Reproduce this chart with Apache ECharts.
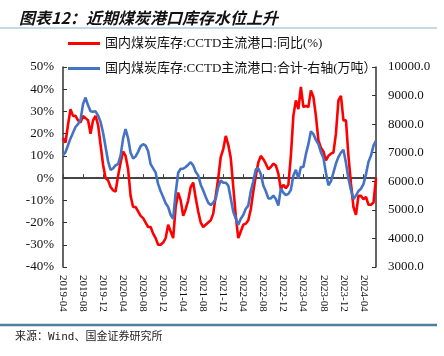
<!DOCTYPE html>
<html>
<head>
<meta charset="utf-8">
<script src="https://cdn.jsdelivr.net/npm/echarts@6/dist/echarts.min.js"></script>
<style>
html,body{margin:0;padding:0;background:#fff;}
#main{width:444px;height:356px;}
</style>
</head>
<body>
<div id="main"></div>
<script>
// Half-monthly observation dates, 2019-04 .. 2024-06
var categories = [];
(function(){
  var y = 2019, m = 4;
  for (var k = 0; k < 63; k++) {
    var mm = (m < 10 ? '0' : '') + m;
    categories.push(y + '-' + mm + '-01');
    categories.push(y + '-' + mm + '-16');
    m++; if (m > 12) { m = 1; y++; }
  }
})();

var seriesNames = ['国内煤炭库存:CCTD主流港口:同比(%)', '国内煤炭库存:CCTD主流港口:合计-右轴(万吨）'];

// YoY change (%), left axis
var yoyValues = [
  18, 16, 24, 31, 28, 28, 26, 25, 28, 27,
  26, 20, 26, 28, 24, 15, 6, 0, -1, -4,
  -5.5, -6, 1, 7, 12, 10, 4, -8, -13, -13,
  -15, -17, -18, -20, -22, -22, -25, -27, -30, -30,
  -29, -27, -21, -24, -27, -13, -6.5, -10, -17, -14,
  -10, -4, -2, -9, -15, -20, -22, -21, -20, -19,
  -16, -8, 0, 9.5, 13, 19, 15, 9, -4, -17,
  -27, -24, -21, -20.5, -19, -14, -6, 1, 7, 10,
  8.5, 6.5, 4, 5, 6.5, 5.7, 2, -5, -3, -4.5,
  -3, 10, 28, 35, 31, 41, 32, 32.5, 32, 39.5,
  36.5, 28, 17, 13.7, 12, 8, 10, 11, 11.5, 20,
  35, 37, 26, 26, 10, -2.5, -13, -16.5, -8, -8,
  -9.5, -8.5, -12, -12, -11, 0
];

// Total inventory (万吨), right axis
var totalValues = [
  6910, 7020, 7260, 7500, 7700, 7900, 8000, 8150, 8700, 8930,
  8660, 8450, 8430, 8450, 8300, 8080, 7700, 7200, 6700, 6400,
  6450, 6560, 6600, 6900, 7500, 7830, 7500, 7000, 6800, 6870,
  7030, 7230, 7300, 7250, 7050, 6600, 6450, 6300, 5900, 5650,
  5450, 5230, 5100, 4820, 4690, 5600, 6300, 6440, 6440, 6500,
  6580, 6670, 6550, 6330, 6200, 5880, 5680, 5450, 5250, 5170,
  5250, 5390, 5800, 6030, 5950, 5950, 5850, 5400, 4930, 4700,
  4480, 4690, 4820, 5040, 5150, 5650, 6000, 6420, 6450, 6250,
  5850, 5650, 5400, 5400, 5500, 5380, 5150, 5750, 5600, 5520,
  5560, 5700, 6200, 6400, 6100, 6500, 6500, 6950, 7300, 7750,
  7650, 7450, 7300, 7020, 6820, 6300, 5860, 6000, 6300, 6620,
  6850, 7000, 7100, 6650, 6100, 5700, 5380, 5500, 5660, 5740,
  5900, 6250, 6680, 6900, 7250, 7420
];

var leftTicks = {min: -40, max: 50, step: 10};
var rightTicks = {min: 3000, max: 10000, step: 1000};

var serif = 'Liberation Serif, Noto Sans CJK SC, serif';
var chart = echarts.init(document.getElementById('main'), null, {renderer: 'canvas'});
chart.setOption({
  animation: false,
  backgroundColor: '#fff',
  title: {
    text: '图表12：近期煤炭港口库存水位上升',
    left: 14, top: 5,
    textStyle: {fontSize: 16, fontWeight: 'bold', fontStyle: 'italic', color: '#111', fontFamily: 'Noto Sans CJK SC'}
  },
  graphic: [
    {type: 'line', shape: {x1: 0, y1: 28, x2: 437, y2: 28}, style: {stroke: '#8fb1cb', lineWidth: 1.2}},
    {type: 'line', shape: {x1: 0, y1: 325, x2: 437, y2: 325}, style: {stroke: '#4d7e9e', lineWidth: 2.5}},
    {type: 'text', left: 15, top: 332, style: {text: '来源：Wind、国金证券研究所', fontSize: 11, fill: '#222', fontFamily: 'DejaVu Sans Mono, Noto Sans CJK SC'}}
  ],
  legend: {
    orient: 'vertical', left: 63, top: 32, itemGap: 12,
    itemWidth: 32, itemHeight: 3, icon: 'rect',
    textStyle: {fontSize: 13, color: '#111', fontFamily: serif},
    data: seriesNames
  },
  grid: {left: 63, right: 68, top: 67, bottom: 89},
  xAxis: [
    {
      type: 'category', data: categories, boundaryGap: false, position: 'bottom',
      axisLine: {show: false, onZero: false},
      axisTick: {show: false},
      axisLabel: {interval: 7, rotate: -90, margin: 8, fontSize: 11, color: '#111', fontFamily: serif,
        formatter: function (v) { return v.slice(0, 7); }}
    },
    {
      type: 'category', data: categories, boundaryGap: false, position: 'bottom',
      axisLine: {show: true, onZero: true, onZeroAxisIndex: 0, lineStyle: {color: '#444', width: 2}},
      axisTick: {show: true, inside: true, interval: 7, length: 4, lineStyle: {color: '#444', width: 1}},
      axisLabel: {show: false}
    }
  ],
  yAxis: [
    {
      type: 'value', min: leftTicks.min, max: leftTicks.max, interval: leftTicks.step,
      axisLine: {show: true, lineStyle: {color: '#333', width: 1.5}},
      axisTick: {show: true, inside: true, length: 4, lineStyle: {color: '#333'}},
      splitLine: {show: false},
      axisLabel: {formatter: '{value}%', fontSize: 13, color: '#111', fontFamily: serif, margin: 9}
    },
    {
      type: 'value', min: rightTicks.min, max: rightTicks.max, interval: rightTicks.step,
      axisLine: {show: true, lineStyle: {color: '#333', width: 1.5}},
      axisTick: {show: true, inside: true, length: 4, lineStyle: {color: '#333'}},
      splitLine: {show: false},
      axisLabel: {formatter: function (v) { return v.toFixed(1); }, fontSize: 13, color: '#111', fontFamily: serif, margin: 12}
    }
  ],
  series: [
    {
      name: seriesNames[0], type: 'line', xAxisIndex: 0, yAxisIndex: 0,
      data: yoyValues, showSymbol: false, symbol: 'none',
      lineStyle: {color: '#ff0000', width: 2.6}, itemStyle: {color: '#ff0000'}
    },
    {
      name: seriesNames[1], type: 'line', xAxisIndex: 0, yAxisIndex: 1,
      data: totalValues, showSymbol: false, symbol: 'none',
      lineStyle: {color: '#4472c4', width: 2.6}, itemStyle: {color: '#4472c4'}
    }
  ]
});
</script>
</body>
</html>
